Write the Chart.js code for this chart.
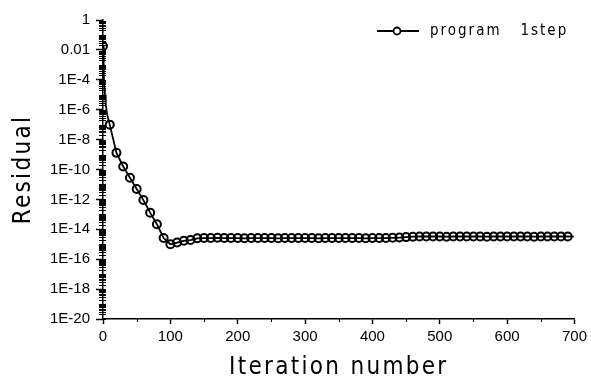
<!DOCTYPE html>
<html>
<head>
<meta charset="utf-8">
<script src="https://cdn.jsdelivr.net/npm/chart.js@4.4.0/dist/chart.umd.min.js"></script>
<style>
  html, body { margin: 0; padding: 0; background: #fff; }
  #wrap { width: 591px; height: 380px; }
</style>
</head>
<body>
<div id="wrap"><canvas id="residualChart"></canvas></div>
<script>
// values
const iterations = [0, 1, 2, 3, 4, 6, 10, 20, 30, 40, 50, 60, 70, 80, 90, 100, 110, 120, 130, 140,
  150, 160, 170, 180, 190, 200, 210, 220, 230, 240, 250, 260, 270, 280, 290, 300, 310, 320, 330, 340,
  350, 360, 370, 380, 390, 400, 410, 420, 430, 440, 450, 460, 470, 480, 490, 500, 510, 520, 530, 540,
  550, 560, 570, 580, 590, 600, 610, 620, 630, 640, 650, 660, 670, 680, 690, 699];
const residuals = [1.8e-2, 2.5e-4, 4e-5, 1e-5, 2.5e-6, 5e-7, 1e-7, 1.3e-9, 1.6e-10, 2.8e-11, 5e-12, 9e-13, 1.3e-13, 2.2e-14, 2.6e-15, 1.0e-15, 1.3e-15, 1.7e-15, 1.9e-15, 2.5e-15,
  2.6e-15, 2.6e-15, 2.7e-15, 2.6e-15, 2.6e-15, 2.6e-15, 2.5e-15, 2.6e-15, 2.6e-15, 2.6e-15, 2.6e-15, 2.5e-15, 2.6e-15, 2.6e-15, 2.6e-15, 2.6e-15, 2.6e-15, 2.5e-15, 2.6e-15, 2.6e-15,
  2.6e-15, 2.6e-15, 2.6e-15, 2.6e-15, 2.5e-15, 2.6e-15, 2.6e-15, 2.6e-15, 2.7e-15, 2.8e-15, 3.0e-15, 3.2e-15, 3.3e-15, 3.3e-15, 3.3e-15, 3.3e-15, 3.2e-15, 3.3e-15, 3.3e-15, 3.3e-15,
  3.3e-15, 3.3e-15, 3.2e-15, 3.3e-15, 3.3e-15, 3.3e-15, 3.3e-15, 3.3e-15, 3.3e-15, 3.2e-15, 3.3e-15, 3.3e-15, 3.3e-15, 3.3e-15, 3.3e-15, 3.2e-15];
const seriesLabel = "program   1step";

const xTickValues = [0, 100, 200, 300, 400, 500, 600, 700];
const xMinorTicks = [50, 150, 250, 350, 450, 550, 650];
const yTickValues = [1, 1e-2, 1e-4, 1e-6, 1e-8, 1e-10, 1e-12, 1e-14, 1e-16, 1e-18, 1e-20];
const yTickLabels = ["1", "0.01", "1E-4", "1E-6", "1E-8", "1E-10", "1E-12", "1E-14", "1E-16", "1E-18", "1E-20"];

const narrowFont = '"Liberation Sans Narrow", "Arial Narrow", "DejaVu Sans Condensed", sans-serif';
const tickFont = { family: '"Liberation Sans", Arial, sans-serif', size: 15 };

// wide letter spacing for the axis titles (drawn before datasets), normal for tick labels
const spacingPlugin = {
  id: "titleSpacing",
  beforeDraw(chart) { chart.ctx.letterSpacing = "2.3px"; },
  beforeDatasetsDraw(chart) { chart.ctx.letterSpacing = "0px"; }
};

// minor ticks on both axes
const minorTicks = {
  id: "minorTicks",
  afterDraw(chart) {
    const ctx = chart.ctx;
    const x = chart.scales.x, y = chart.scales.y;
    ctx.save();
    ctx.strokeStyle = "#000";
    ctx.lineWidth = 1;
    ctx.beginPath();
    for (let e = 0; e >= -20; e--) {
      for (let m = 1; m <= 9; m++) {
        const v = m * Math.pow(10, e - 1);
        if (v < 1e-20) continue;
        const py = Math.round(y.getPixelForValue(v)) + 0.5;
        const major = m === 1 && (e - 1) % 2 === 0;
        ctx.moveTo(x.left - (major ? 0 : 4), py);
        ctx.lineTo(x.left + 3, py);
      }
    }
    xMinorTicks.forEach(function (v) {
      const px = Math.round(x.getPixelForValue(v)) + 0.5;
      ctx.moveTo(px, y.bottom);
      ctx.lineTo(px, y.bottom + 3);
    });
    ctx.stroke();
    ctx.restore();
  }
};

// legend: line with circle marker, then label
const lineLegend = {
  id: "lineLegend",
  afterDraw(chart) {
    const ctx = chart.ctx;
    const ly = 31;
    ctx.save();
    ctx.strokeStyle = "#000";
    ctx.lineWidth = 1.8;
    ctx.beginPath();
    ctx.moveTo(377, ly);
    ctx.lineTo(419, ly);
    ctx.stroke();
    ctx.beginPath();
    ctx.arc(397, ly, 3.5, 0, Math.PI * 2);
    ctx.fillStyle = "#fff";
    ctx.fill();
    ctx.stroke();
    ctx.letterSpacing = "2px";
    ctx.fillStyle = "#000";
    ctx.font = "15px " + narrowFont;
    ctx.textBaseline = "middle";
    ctx.fillText(chart.data.datasets[0].label, 430, ly);
    ctx.letterSpacing = "0px";
    ctx.restore();
  }
};

const ctx = document.getElementById("residualChart").getContext("2d");

const residualChart = new Chart(ctx, {
  type: "line",
  data: {
    datasets: [
      {
        label: seriesLabel,
        data: iterations.map(function (it, i) { return { x: it, y: residuals[i] }; }),
        borderColor: "#000",
        borderWidth: 1.8,
        tension: 0,
        pointStyle: "circle",
        pointRadius: function (c) {
          const it = iterations[c.dataIndex];
          return it % 10 === 0 ? 4 : 0;
        },
        pointBorderColor: "#000",
        pointBorderWidth: 2,
        pointBackgroundColor: "rgba(255,255,255,0)",
      },
    ],
  },
  options: {
    responsive: true,
    maintainAspectRatio: false,
    animation: false,
    layout: { padding: { top: 20, right: 11, left: 0, bottom: 0 } },
    plugins: {
      legend: { display: false },
      tooltip: { enabled: false },
    },
    scales: {
      x: {
        type: "linear",
        min: 0,
        max: 700,
        afterFit: function (scale) { scale.height = 61; },
        afterBuildTicks: function (scale) {
          scale.ticks = xTickValues.map(function (v) { return { value: v }; });
        },
        ticks: { color: "#000", font: tickFont, padding: 4, z: 1, maxRotation: 0 },
        grid: { drawOnChartArea: false, drawTicks: true, tickLength: 5, tickColor: "#000", tickWidth: 1.5 },
        border: { display: true, color: "#000", width: 1.5 },
        title: {
          display: true,
          text: "Iteration number",
          color: "#000",
          font: { family: narrowFont, size: 24 },
          padding: { top: 0, bottom: -2 },
        },
      },
      y: {
        type: "logarithmic",
        min: 1e-20,
        max: 1,
        afterFit: function (scale) { scale.width = 103; },
        afterBuildTicks: function (scale) {
          scale.ticks = yTickValues.map(function (v) { return { value: v }; });
        },
        ticks: {
          color: "#000",
          font: tickFont,
          padding: 6,
          z: 1,
          callback: function (value) {
            const i = yTickValues.findIndex(function (v) { return Math.abs(Math.log10(v) - Math.log10(value)) < 1e-6; });
            return i >= 0 ? yTickLabels[i] : "";
          },
        },
        grid: { drawOnChartArea: false, drawTicks: true, tickLength: 7, tickColor: "#000", tickWidth: 1.5 },
        border: { display: true, color: "#000", width: 1.5 },
        title: {
          display: true,
          text: "Residual",
          color: "#000",
          font: { family: narrowFont, size: 24 },
          padding: { top: 9, bottom: 0 },
        },
      },
    },
  },
  plugins: [spacingPlugin, minorTicks, lineLegend],
});
</script>
</body>
</html>
